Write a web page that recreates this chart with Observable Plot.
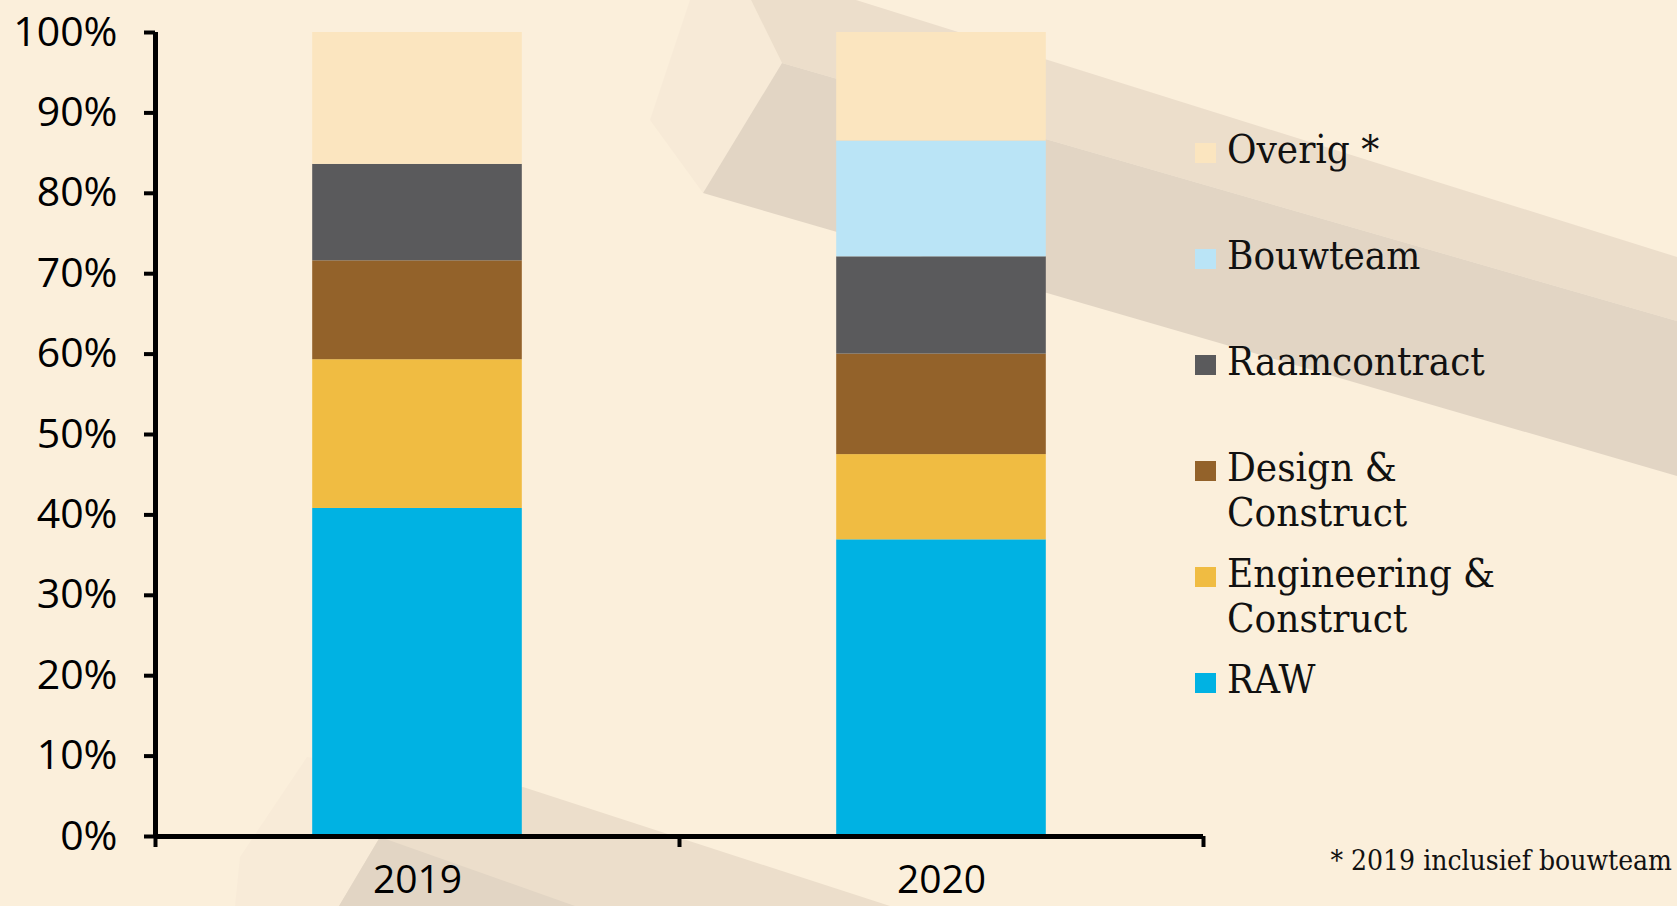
<!DOCTYPE html>
<html>
<head>
<meta charset="utf-8">
<script src="https://cdn.jsdelivr.net/npm/d3@7"></script>
<script src="https://cdn.jsdelivr.net/npm/@observablehq/plot@0.6"></script>
<style>
  html, body { margin: 0; padding: 0; background: #FBEFDB; overflow: hidden; }
  #wrap { position: relative; width: 1677px; height: 906px; }
  #bg, #chart { position: absolute; left: 0; top: 0; }
  #legend { position: absolute; left: 1195px; top: 0; font-family: "DejaVu Serif Condensed", "Liberation Serif", serif; font-size: 40px; color: #111; }
  .item { position: absolute; left: 0; width: 340px; line-height: 45px; }
  .sw { position: absolute; left: 0; width: 21px; height: 20px; }
  .lab { position: absolute; left: 32px; width: 300px; }
  #note { position: absolute; right: 5px; top: 846px; font-family: "DejaVu Serif Condensed", "Liberation Serif", serif; font-size: 28px; line-height: 30px; color: #111; white-space: nowrap; }
</style>
</head>
<body>
<div id="wrap">
  <svg id="bg" width="1677" height="906">
    <polygon points="690,0 751,0 782,63 703,193 650,120" fill="#F7EAD7"/>
    <polygon points="856,0 1677,257 1677,321 782,63 751,0" fill="#ECDECB"/>
    <polygon points="782,63 1677,321 1677,476 703,193" fill="#E2D5C4"/>
    <polygon points="235,906 240,857 307,757 523,787 380,837 339,906" fill="#F8EBD8"/>
    <polygon points="523,787 890,906 339,906 380,837" fill="#ECDECB"/>
    <polygon points="380,837 575,906 339,906" fill="#E2D5C4"/>
  </svg>
  <div id="chart"></div>
  <div id="legend"></div>
  <div id="note"></div>
</div>
<script>
const years = ["2019", "2020"];
const series = ["RAW", "Engineering & Construct", "Design & Construct", "Raamcontract", "Bouwteam", "Overig *"];
const values2019 = [40.8, 18.5, 12.3, 12.0, 0, 16.4];
const values2020 = [36.9, 10.6, 12.5, 12.1, 14.4, 13.5];
const colors = ["#00B2E3", "#F0BC42", "#93622A", "#5A5A5C", "#BAE4F6", "#FBE5BF"];
const yTicks = [0, 10, 20, 30, 40, 50, 60, 70, 80, 90, 100];
const footnote = "* 2019 inclusief bouwteam";

const barFraction = 0.4;
const rows = [];
[values2019, values2020].forEach((vals, i) =>
  vals.forEach((v, j) =>
    rows.push({year: years[i], series: series[j], value: v,
               x1: i + 0.5 - barFraction / 2, x2: i + 0.5 + barFraction / 2})));

const chart = Plot.plot({
  width: 1677, height: 906,
  marginLeft: 155, marginRight: 474, marginTop: 32, marginBottom: 70,
  x: {domain: [0, years.length], label: null},
  y: {domain: [0, 100], label: null},
  color: {domain: series, range: colors},
  style: {background: "transparent", fontFamily: "'Open Sans', sans-serif", fontSize: "41px", color: "#000", overflow: "visible"},
  marks: [
    Plot.rectY(rows, {x1: "x1", x2: "x2", y: "value", fill: "series", order: series}),
    Plot.axisY(yTicks, {tickSize: 11, tickPadding: 27, strokeWidth: 4, tickFormat: d => d + "%", fontSize: 41}),
    Plot.axisX(d3.range(years.length + 1), {tickSize: 11, strokeWidth: 4, tickFormat: () => ""}),
    Plot.axisX(years.map((_, i) => i + 0.5), {tickSize: 0, tickPadding: 29, tickFormat: d => years[Math.floor(d)], fontSize: 39}),
    Plot.ruleX([0], {strokeWidth: 5}),
    Plot.ruleY([0], {strokeWidth: 5})
  ]
});
document.getElementById("chart").appendChild(chart);

const legend = document.getElementById("legend");
series.slice().reverse().forEach((s, i) => {
  const item = document.createElement("div");
  item.className = "item";
  item.style.top = (127 + i * 106) + "px";
  const sw = document.createElement("div");
  sw.className = "sw";
  sw.style.top = "16px";
  sw.style.background = colors[series.indexOf(s)];
  const lab = document.createElement("div");
  lab.className = "lab";
  lab.textContent = s;
  item.appendChild(sw);
  item.appendChild(lab);
  legend.appendChild(item);
});
document.getElementById("note").textContent = footnote;
</script>
</body>
</html>
